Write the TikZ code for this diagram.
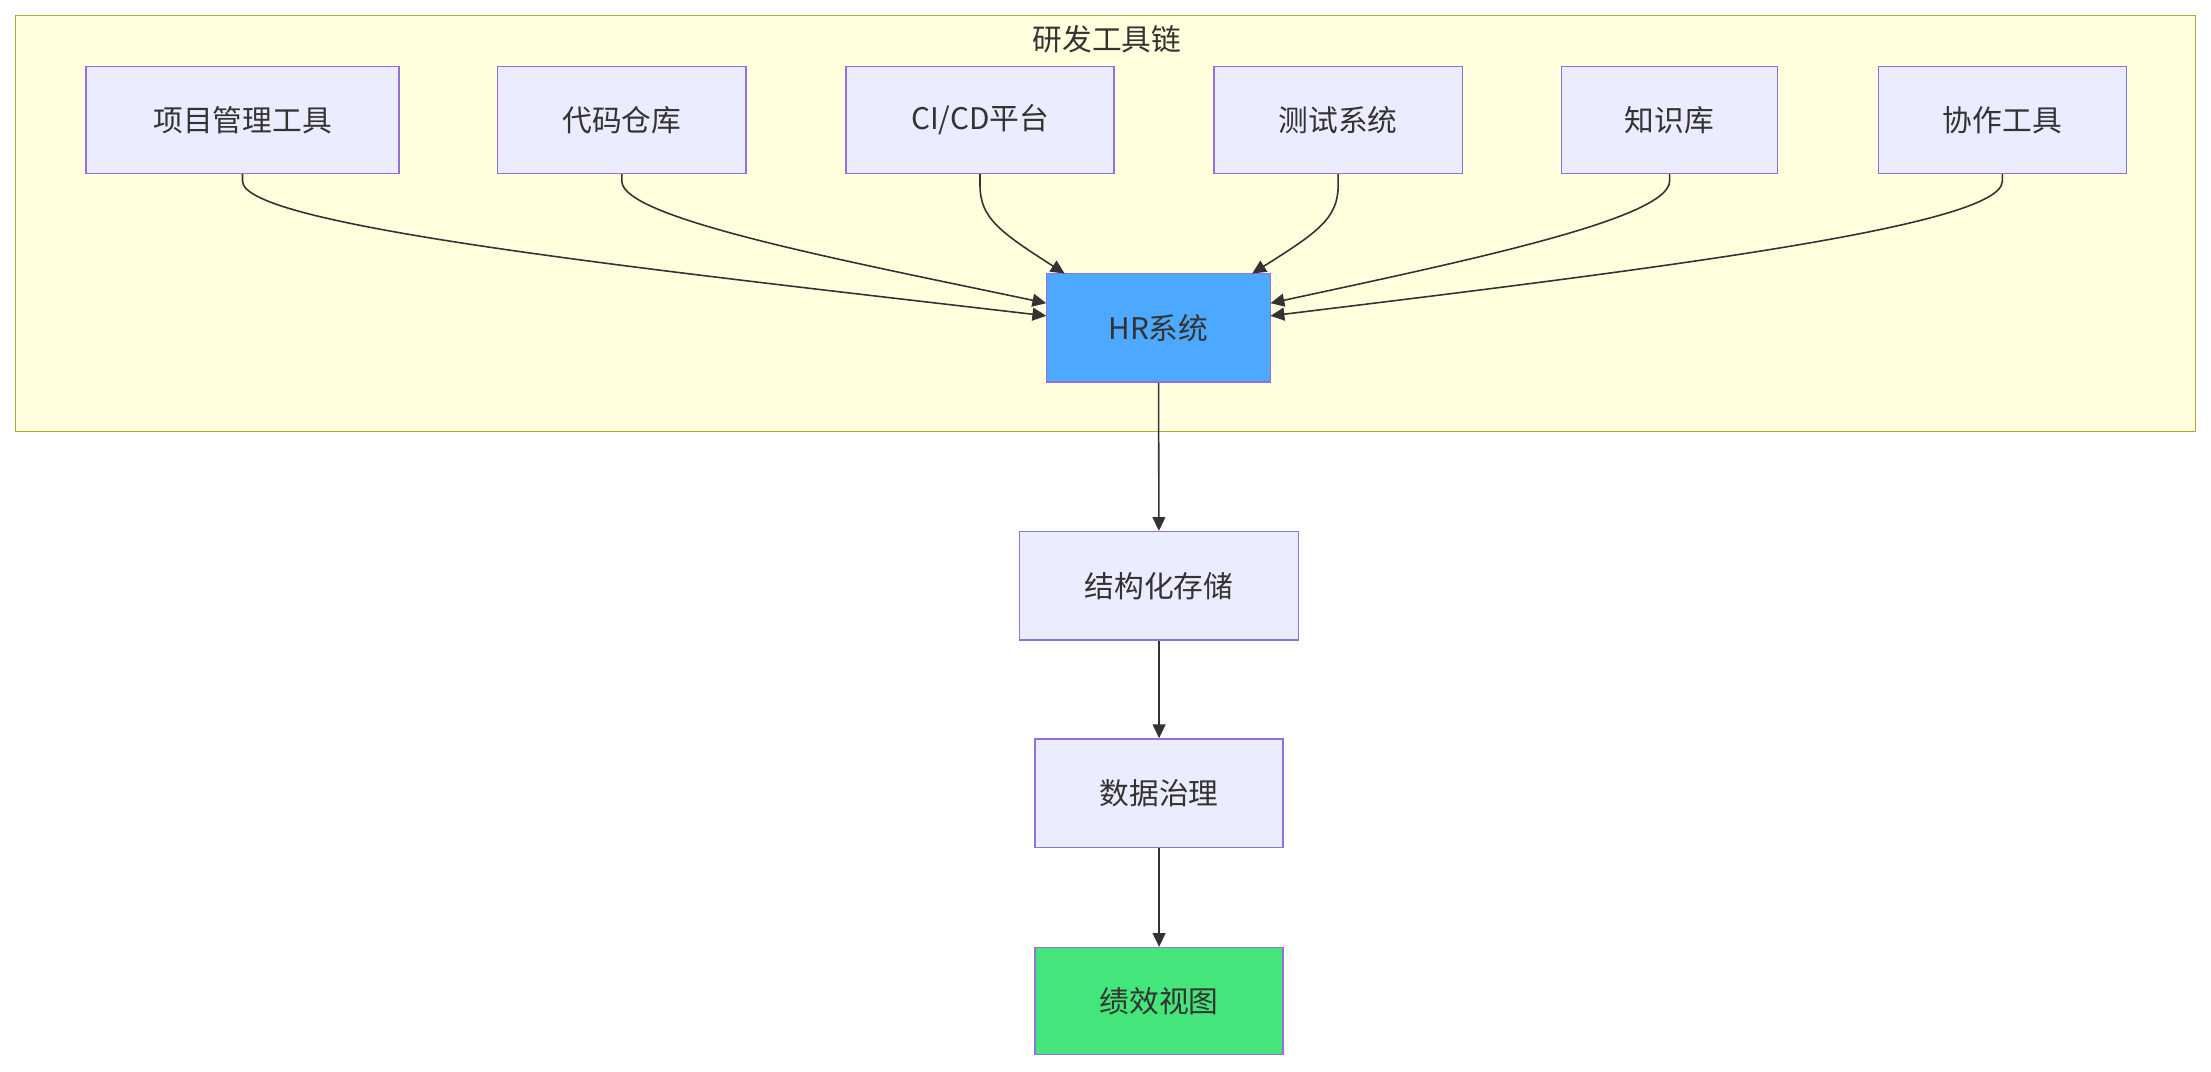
\documentclass[tikz,border=0pt]{standalone}
\usepackage{fontspec}
\setmainfont{Noto Sans CJK SC}
\usetikzlibrary{arrows.meta}
\definecolor{nfill}{HTML}{ECECFF}
\definecolor{nborder}{HTML}{9370DB}
\definecolor{cfill}{HTML}{FFFFDE}
\definecolor{cborder}{HTML}{AAAA33}
\definecolor{hrfill}{HTML}{4DA9FF}
\definecolor{gfill}{HTML}{44E57A}
\definecolor{edge}{HTML}{333333}
\begin{document}
\begin{tikzpicture}[x=0.05cm,y=-0.05cm,
  box/.style={draw=nborder,fill=nfill,line width=1.4pt,inner sep=0pt,text=edge,font=\fontsize{30}{36}\selectfont},
  conn/.style={draw=edge,line width=1.6pt,-{Triangle[length=14pt,width=13pt]}}]
\useasboundingbox (0,0) rectangle (1568,760);
\fill[white] (0,0) rectangle (1568,760);
\draw[cborder,fill=cfill,line width=1.4pt] (11,11) rectangle (1557,306);
\node[text=edge,font=\fontsize{30}{36}\selectfont] (title) at (785,28) {研发工具链};
\node[box,minimum width=222*0.05cm,minimum height=76*0.05cm] (a) at (172,85) {项目管理工具};
\node[box,minimum width=176*0.05cm,minimum height=76*0.05cm] (b) at (441,85) {代码仓库};
\node[box,minimum width=190*0.05cm,minimum height=76*0.05cm] (c) at (695,85) {CI/CD平台};
\node[box,minimum width=176*0.05cm,minimum height=76*0.05cm] (d) at (949,85) {测试系统};
\node[box,minimum width=153*0.05cm,minimum height=76*0.05cm] (e) at (1184,85) {知识库};
\node[box,minimum width=176*0.05cm,minimum height=76*0.05cm] (f) at (1420,85) {协作工具};
\node[box,fill=hrfill,minimum width=159*0.05cm,minimum height=77*0.05cm] (hr) at (821.5,232.5) {HR系统};
\node[box,minimum width=198*0.05cm,minimum height=77*0.05cm] (s) at (822,415.5) {结构化存储};
\node[box,minimum width=176*0.05cm,minimum height=77*0.05cm] (g) at (822,562.5) {数据治理};
\node[box,fill=gfill,minimum width=176*0.05cm,minimum height=76*0.05cm] (v) at (822,710) {绩效视图};
\coordinate (hl1) at (742,224);
\coordinate (hl2) at (742,215);
\coordinate (ht1) at (755,194);
\coordinate (ht2) at (888,194);
\coordinate (hr2) at (901,215);
\coordinate (hr1) at (901,224);
\draw[conn] (a.south) -- ++(0,5) .. controls (172,160) and (450,190) .. (hl1);
\draw[conn] (b.south) -- ++(0,5) .. controls (441,155) and (600,185) .. (hl2);
\draw[conn] (c.south) -- ++(0,8) .. controls (695,155) and (710,165) .. (ht1);
\draw[conn] (d.south) -- ++(0,8) .. controls (949,155) and (934,165) .. (ht2);
\draw[conn] (e.south) -- ++(0,5) .. controls (1184,155) and (1040,185) .. (hr2);
\draw[conn] (f.south) -- ++(0,5) .. controls (1420,160) and (1180,190) .. (hr1);
\draw[conn] (hr) -- (s);
\draw[conn] (s) -- (g);
\draw[conn] (g) -- (v);
\end{tikzpicture}
\end{document}
